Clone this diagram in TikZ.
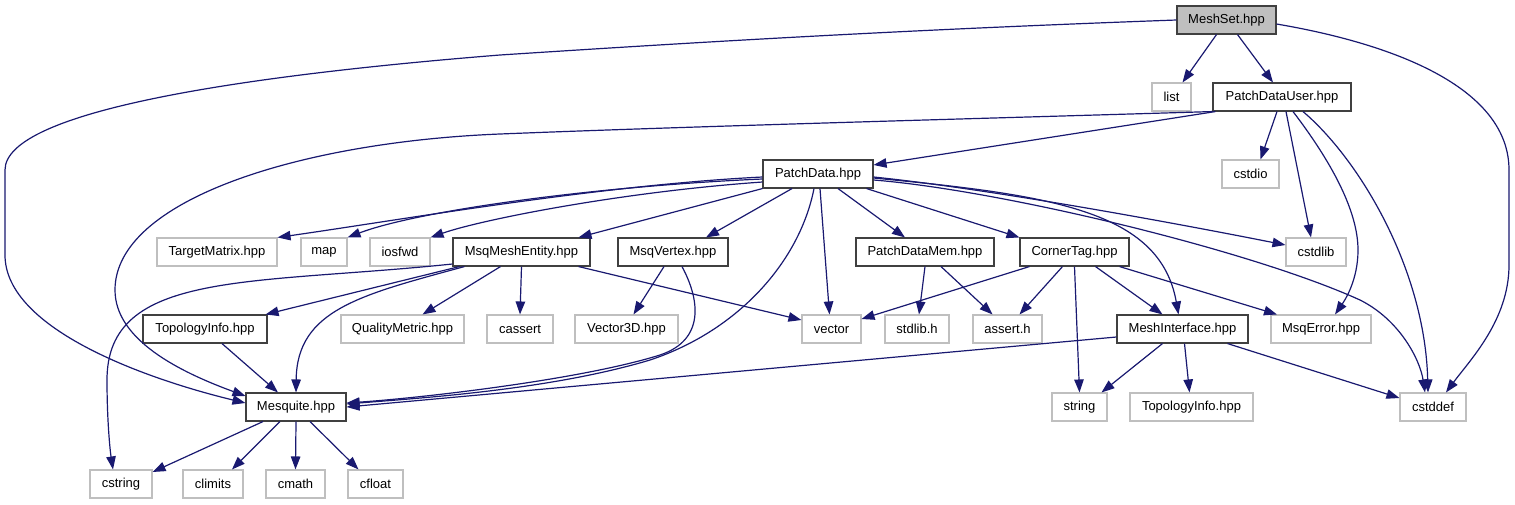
\documentclass[tikz,border=0pt]{standalone}
\usepackage{fontspec}
\setmainfont{Liberation Sans}
\usetikzlibrary{arrows.meta}
\definecolor{edgeblue}{HTML}{191970}
\definecolor{strongframe}{HTML}{404040}
\definecolor{weakframe}{HTML}{BFBFBF}
\definecolor{rootfill}{HTML}{BFBFBF}
\tikzset{
  box/.style={rectangle, minimum height=28pt, inner sep=0pt, font=\fontsize{13}{15}\selectfont, text=black, line width=1.1pt},
  strong/.style={box, draw=strongframe, fill=white},
  weak/.style={box, draw=weakframe, fill=white},
  root/.style={box, draw=strongframe, fill=rootfill},
  dep/.style={draw=edgeblue, line width=1.2pt, -{Triangle[length=13pt,width=9.5pt]}, edgeblue}
}
\begin{document}
\begin{tikzpicture}[x=1pt,y=-1pt]
\useasboundingbox (0,0) rectangle (1515,504);
% row 1
\node[root, minimum width=99pt] (meshset) at (1226.5,20) {MeshSet.hpp};
% row 2
\node[weak, minimum width=39pt] (list) at (1171.5,97) {list};
\node[strong, minimum width=138pt] (pdu) at (1282,97) {PatchDataUser.hpp};
% row 3
\node[weak, minimum width=57pt] (cstdio) at (1250.5,174) {cstdio};
\node[strong, minimum width=110pt] (pd) at (818,174) {PatchData.hpp};
% row 4
\node[weak, minimum width=120pt] (tm) at (217,252) {TargetMatrix.hpp};
\node[weak, minimum width=46pt] (map) at (324,252) {map};
\node[weak, minimum width=60pt] (iosfwd) at (400,252) {iosfwd};
\node[strong, minimum width=137pt] (mme) at (521.5,252) {MsqMeshEntity.hpp};
\node[strong, minimum width=110pt] (mv) at (673,252) {MsqVertex.hpp};
\node[strong, minimum width=138pt] (pdm) at (925,252) {PatchDataMem.hpp};
\node[strong, minimum width=109pt] (ct) at (1074.5,252) {CornerTag.hpp};
\node[weak, minimum width=60pt] (cstdlib) at (1316,252) {cstdlib};
% row 5
\node[strong, minimum width=124pt] (ti) at (205,329) {TopologyInfo.hpp};
\node[weak, minimum width=123pt] (qm) at (402.5,329) {QualityMetric.hpp};
\node[weak, minimum width=66pt] (cassert) at (520,329) {cassert};
\node[weak, minimum width=103pt] (v3d) at (626.5,329) {Vector3D.hpp};
\node[weak, minimum width=59pt] (vector) at (831.5,329) {vector};
\node[weak, minimum width=64pt] (stdlibh) at (917,329) {stdlib.h};
\node[weak, minimum width=69pt] (asserth) at (1007.5,329) {assert.h};
\node[strong, minimum width=131pt] (mi) at (1182.5,329) {MeshInterface.hpp};
\node[weak, minimum width=100pt] (msqerr) at (1321,329) {MsqError.hpp};
% row 6
\node[strong, minimum width=100pt] (mesq) at (296,407) {Mesquite.hpp};
\node[weak, minimum width=55pt] (string) at (1079.5,407) {string};
\node[weak, minimum width=123pt] (ti2) at (1191.5,407) {TopologyInfo.hpp};
\node[weak, minimum width=66pt] (cstddef) at (1433,407) {cstddef};
% row 7
\node[weak, minimum width=62pt] (cstring) at (121,484) {cstring};
\node[weak, minimum width=60pt] (climits) at (213,484) {climits};
\node[weak, minimum width=59pt] (cmath) at (295.5,484) {cmath};
\node[weak, minimum width=55pt] (cfloat) at (375.5,484) {cfloat};

% MeshSet
\draw[dep] ([xshift=-10]meshset.south) -- ([xshift=11]list.north);
\draw[dep] ([xshift=11]meshset.south) -- ([xshift=-9]pdu.north);
\draw[dep] (meshset.west) .. controls (900,30) and (700,42) .. (500,55) .. controls (250,75) and (5,110) .. (5,170) -- (5,255) .. controls (5,330) and (150,380) .. ([yshift=4]mesq.west);
\draw[dep] ([yshift=-4]meshset.east) .. controls (1400,45) and (1509,90) .. (1509,170) -- (1509,265) .. controls (1509,320) and (1470,360) .. ([xshift=13]cstddef.north);
% PatchDataUser
\draw[dep] ([xshift=3]pdu.south west) -- ([yshift=9]pd.east);
\draw[dep] (pdu.south west) .. controls (1000,118) and (700,126) .. (500,134) .. controls (300,142) and (115,200) .. (115,290) .. controls (115,340) and (180,372) .. ([yshift=11]mesq.west);
\draw[dep] ([xshift=-5]pdu.south) -- ([xshift=10]cstdio.north);
\draw[dep] ([xshift=4]pdu.south) -- ([xshift=-5]cstdlib.north);
\draw[dep] ([xshift=11]pdu.south) .. controls (1330,160) and (1358,210) .. (1358,250) .. controls (1358,280) and (1345,300) .. ([xshift=14]msqerr.north);
\draw[dep] ([xshift=21]pdu.south) .. controls (1360,160) and (1425,270) .. ([xshift=-5]cstddef.north);
% PatchData
\draw[dep] ([yshift=-3]pd.west) .. controls (600,185) and (400,220) .. (tm.north east);
\draw[dep] ([yshift=-5]pd.west) .. controls (600,186) and (420,210) .. (map.north east);
\draw[dep] ([yshift=-8]pd.west) .. controls (620,192) and (480,220) .. (iosfwd.north east);
\draw[dep] (pd.south west) -- ([xshift=57]mme.north);
\draw[dep] ([xshift=-26]pd.south) -- ([xshift=33]mv.north);
\draw[dep] ([xshift=-4]pd.south) .. controls (800,260) and (740,330) .. (650,360) .. controls (550,390) and (420,398) .. ([yshift=3]mesq.east);
\draw[dep] ([xshift=2]pd.south) -- ([xshift=-2]vector.north);
\draw[dep] ([xshift=20]pd.south) -- ([xshift=-20]pdm.north);
\draw[dep] ([xshift=-7]pd.south east) -- (ct.north west);
\draw[dep] ([yshift=-3]pd.east) .. controls (1000,190) and (1200,228) .. ([yshift=7]cstdlib.west);
\draw[dep] ([yshift=-4]pd.east) .. controls (1050,195) and (1160,210) .. ([xshift=-4]mi.north);
\draw[dep] ([yshift=-6]pd.east) .. controls (1000,190) and (1250,250) .. (1360,300) .. controls (1400,320) and (1420,360) .. ([xshift=-8]cstddef.north);
% MsqMeshEntity
\draw[dep] ([yshift=-12]mme.west) .. controls (250,285) and (107,270) .. (107,380) .. controls (107,420) and (110,450) .. ([xshift=-8]cstring.north);
\draw[dep] ([xshift=7]mme.south west) -- ([xshift=-2]ti.north east);
\draw[dep] ([xshift=12]mme.south west) .. controls (360,295) and (297,310) .. (mesq.north);
\draw[dep] ([xshift=-21]mme.south) -- ([xshift=20]qm.north);
\draw[dep] (mme.south) -- (cassert.north);
\draw[dep] ([xshift=-12]mme.south east) -- ([yshift=9]vector.west);
% MsqVertex
\draw[dep] ([xshift=-9]mv.south) -- ([xshift=7]v3d.north);
\draw[dep] ([xshift=9]mv.south) .. controls (700,300) and (705,340) .. (660,355) .. controls (580,380) and (420,398) .. ([yshift=4]mesq.east);
% PatchDataMem
\draw[dep] (pdm.south) -- ([xshift=2]stdlibh.north);
\draw[dep] ([xshift=16]pdm.south) -- ([xshift=-15]asserth.north);
% CornerTag
\draw[dep] ([xshift=10]ct.south west) -- ([yshift=10]vector.east);
\draw[dep] ([xshift=-12]ct.south) -- ([xshift=12]asserth.north);
\draw[dep] (ct.south) -- (string.north);
\draw[dep] ([xshift=21]ct.south) -- ([xshift=-20]mi.north);
\draw[dep] ([xshift=-10]ct.south east) -- ([xshift=-44]msqerr.north);
% TopologyInfo
\draw[dep] ([xshift=17]ti.south) -- ([xshift=-18]mesq.north);
% MeshInterface
\draw[dep] ([yshift=-8]mi.west) -- (mesq.east);
\draw[dep] ([xshift=-20]mi.south) -- ([xshift=22]string.north);
\draw[dep] ([xshift=2]mi.south) -- ([xshift=-2]ti2.north);
\draw[dep] ([xshift=45]mi.south) -- ([yshift=9]cstddef.west);
% Mesquite
\draw[dep] ([xshift=-33]mesq.south) -- ([yshift=12]cstring.east);
\draw[dep] ([xshift=-16]mesq.south) -- ([xshift=19]climits.north);
\draw[dep] (mesq.south) -- (cmath.north);
\draw[dep] ([xshift=14]mesq.south) -- ([xshift=-17]cfloat.north);
\end{tikzpicture}
\end{document}
